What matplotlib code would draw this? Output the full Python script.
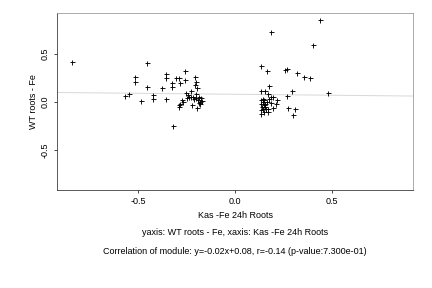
import numpy as np
import matplotlib.pyplot as plt

plt.rcParams['font.family'] = ['Liberation Sans', 'DejaVu Sans']

# left cluster (Kas -Fe 24h Roots, WT roots - Fe)
x_left = [-0.844, -0.454, -0.517, -0.517, -0.570, -0.548, -0.488, -0.457, -0.426, -0.426,
          -0.359, -0.359, -0.375, -0.359, -0.328, -0.328, -0.304, -0.292, -0.282, -0.256,
          -0.256, -0.318, -0.292, -0.287, -0.282, -0.272, -0.267, -0.251, -0.246, -0.241,
          -0.236, -0.230, -0.225, -0.220, -0.215, -0.210, -0.205, -0.200, -0.205, -0.194,
          -0.200, -0.194, -0.189, -0.184, -0.179, -0.179, -0.174, -0.170, -0.184, -0.200]
y_left = [0.410, 0.404, 0.256, 0.205, 0.058, 0.079, 0.010, 0.154, 0.072, 0.031,
          0.288, 0.253, 0.144, 0.031, 0.195, 0.151, 0.247, 0.247, 0.199, 0.318,
          0.226, -0.247, -0.034, -0.048, -0.024, 0.020, -0.003, 0.096, 0.038, 0.072,
          0.048, 0.113, 0.055, -0.031, 0.048, 0.027, 0.256, 0.208, 0.174, 0.140,
          0.078, -0.065, 0.020, 0.048, 0.003, -0.024, 0.038, 0.010, -0.014, 0.038]

# right cluster
x_right = [0.440, 0.187, 0.404, 0.136, 0.166, 0.259, 0.270, 0.321, 0.357, 0.388,
           0.481, 0.177, 0.136, 0.155, 0.295, 0.270, 0.172, 0.218, 0.213, 0.197,
           0.187, 0.177, 0.197, 0.275, 0.311, 0.301, 0.136, 0.172, 0.172, 0.184,
           0.136, 0.143, 0.136, 0.150, 0.140, 0.143, 0.136, 0.150, 0.154, 0.157,
           0.143, 0.164, 0.160, 0.150]
y_right = [0.843, 0.720, 0.590, 0.373, 0.318, 0.329, 0.346, 0.301, 0.256, 0.247,
           0.092, 0.164, 0.113, 0.113, 0.113, 0.062, 0.082, 0.020, -0.021, 0.048,
           0.048, 0.031, -0.062, -0.062, -0.072, -0.134, -0.127, -0.103, -0.072, -0.014,
           0.017, 0.000, -0.017, -0.034, -0.051, -0.068, -0.085, 0.017, -0.017, -0.051,
           0.031, 0.000, -0.068, -0.103]

slope, intercept = -0.02, 0.08
xticks = [-0.5, 0.0, 0.5]
yticks = [-0.5, 0.0, 0.5]

x = np.array(x_left + x_right)
y = np.array(y_left + y_right)

fig = plt.figure(figsize=(6, 4), dpi=72)
ax = fig.add_axes([0.132, 0.34, 0.824, 0.615])

xl = np.array([-0.92, 0.92])
ax.plot(xl, slope * xl + intercept, color='#d9d9d9', lw=1.0, zorder=1)
ax.plot(x, y, '+', color='black', ms=5, mew=0.9, zorder=2)

ax.set_xlim(-0.92, 0.92)
ax.set_ylim(-0.91, 0.92)
ax.set_xticks(xticks)
ax.set_yticks(yticks)
ax.set_xticklabels(['-0.5', '0.0', '0.5'], fontsize=9)
ax.set_yticklabels(['-0.5', '0.0', '0.5'], fontsize=9, rotation=90, va='center')
ax.tick_params(direction='out', length=3, width=0.7, pad=4)
for side in ['top', 'right']:
    ax.spines[side].set_color('#999999')
for side in ['left', 'bottom']:
    ax.spines[side].set_color('#333333')
for s in ax.spines.values():
    s.set_linewidth(0.8)

ax.set_ylabel('WT roots - Fe', fontsize=9, labelpad=3)
fig.text(0.544, 0.253, 'Kas -Fe 24h Roots', ha='center', va='center', fontsize=9)
fig.text(0.544, 0.191, 'yaxis: WT roots - Fe, xaxis: Kas -Fe 24h Roots',
         ha='center', va='center', fontsize=9)
fig.text(0.544, 0.125,
         'Correlation of module: y=-0.02x+0.08, r=-0.14 (p-value:7.300e-01)',
         ha='center', va='center', fontsize=9)

fig.savefig('out.png', dpi=72)
